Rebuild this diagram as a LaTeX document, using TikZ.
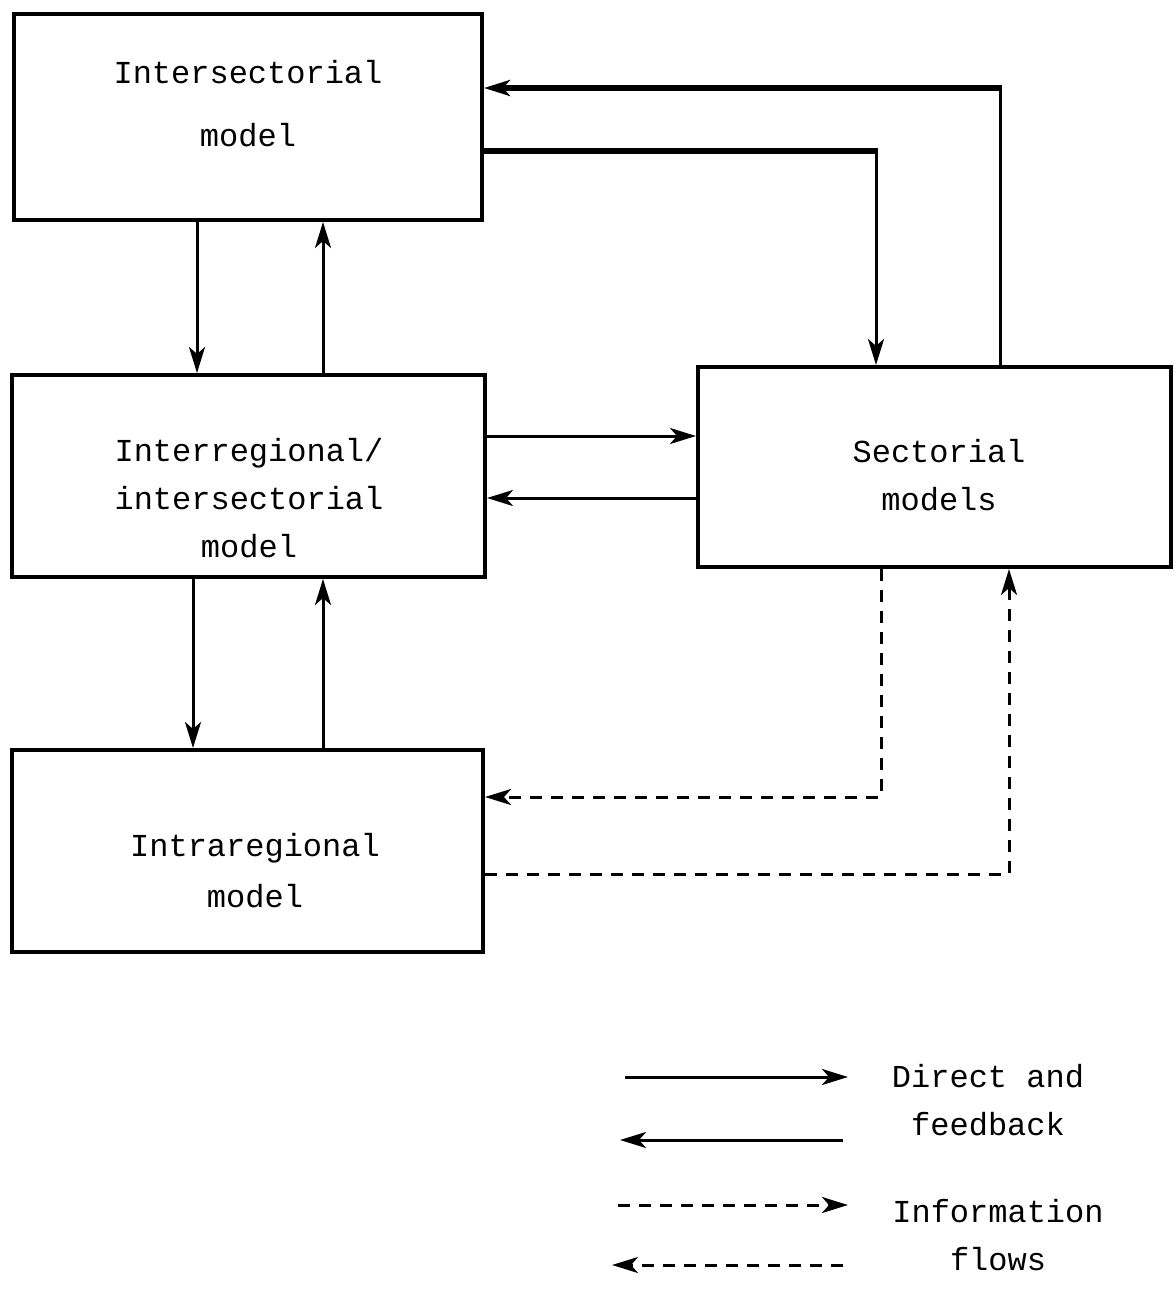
\documentclass[tikz,border=0pt]{standalone}
\usepackage{fontspec}
\newfontfamily\typew{Liberation Mono}
\usetikzlibrary{arrows.meta}

\tikzset{
    >={Stealth[length=13pt, width=8pt, inset=3.5pt]},
    model/.style={draw, line width=2pt, inner sep=0pt},
    flow/.style={line width=1.5pt, ->},
    heavy/.style={line width=2.6pt},
    info/.style={line width=1.5pt, dash pattern=on 6pt off 4.5pt, ->},
    lbl/.style={font=\typew\fontsize{16}{24}\selectfont, align=center}
}

\begin{document}
\begin{tikzpicture}[x=0.5pt, y=-0.5pt]
    \useasboundingbox (0,0) rectangle (1174,1289);

    % Model boxes
    \node[model, minimum width=234pt, minimum height=103pt] (inter) at (248,117) {};
    \node[model, minimum width=236.5pt, minimum height=101pt] (inreg) at (248.5,476) {};
    \node[model, minimum width=236.5pt, minimum height=100pt] (sect) at (934.5,467) {};
    \node[model, minimum width=235.5pt, minimum height=101pt] (intra) at (247.5,851) {};

    % Box texts
    \node[lbl] (interT) at (248,104) {Intersectorial\\[7.5pt]model};
    \node[lbl] (inregT) at (249,498) {Interregional/\\intersectorial\\model};
    \node[lbl] (sectT) at (939,475) {Sectorial\\models};
    \node[lbl] (intraT) at (255,871) {Intraregional\\[1.5pt]model};

    % Direct and feedback links
    \draw[flow] (inter.south -| 197,0) -- (inreg.north -| 197,0);
    \draw[flow] (inreg.north -| 323,0) -- (inter.south -| 323,0);
    \draw[flow] (inreg.south -| 193,0) -- (intra.north -| 193,0);
    \draw[flow] (intra.north -| 323,0) -- (inreg.south -| 323,0);
    \draw[flow] (inreg.east |- 0,436) -- (sect.west |- 0,436);
    \draw[flow] (sect.west |- 0,498) -- (inreg.east |- 0,498);

    % Links over the top
    \coordinate (tm) at (876,151);
    \coordinate (tr) at (1000,88);
    \draw[heavy] (inter.east |- tm) -- ([xshift=0.75pt]tm);
    \draw[flow] ([yshift=1.3pt]tm) -- (sect.north -| tm);
    \draw[line width=1.5pt] (sect.north -| tr) -- ([yshift=1.3pt]tr);
    \draw[flow, heavy] ([xshift=0.75pt]tr) -- (inter.east |- tr);

    % Information flows
    \coordinate (bm) at (881,797);
    \coordinate (br) at (1009,874);
    \draw[info] (sect.south -| bm) -- (bm) -- (intra.east |- bm);
    \draw[info] (intra.east |- br) -- (br) -- (sect.south -| br);

    % Legend
    \coordinate (k1a) at (625,1077);
    \coordinate (k1b) at (848,1077);
    \coordinate (k2a) at (843,1140);
    \coordinate (k2b) at (620,1140);
    \coordinate (k3a) at (618,1205);
    \coordinate (k3b) at (848,1205);
    \coordinate (k4a) at (843,1265);
    \coordinate (k4b) at (612,1265);
    \draw[flow] (k1a) -- (k1b);
    \draw[flow] (k2a) -- (k2b);
    \draw[info] (k3a) -- (k3b);
    \draw[info] (k4a) -- (k4b);
    \node[lbl] (keyD) at (988,1100) {Direct and\\feedback};
    \node[lbl] (keyI) at (998,1235) {Information\\flows};
\end{tikzpicture}
\end{document}
